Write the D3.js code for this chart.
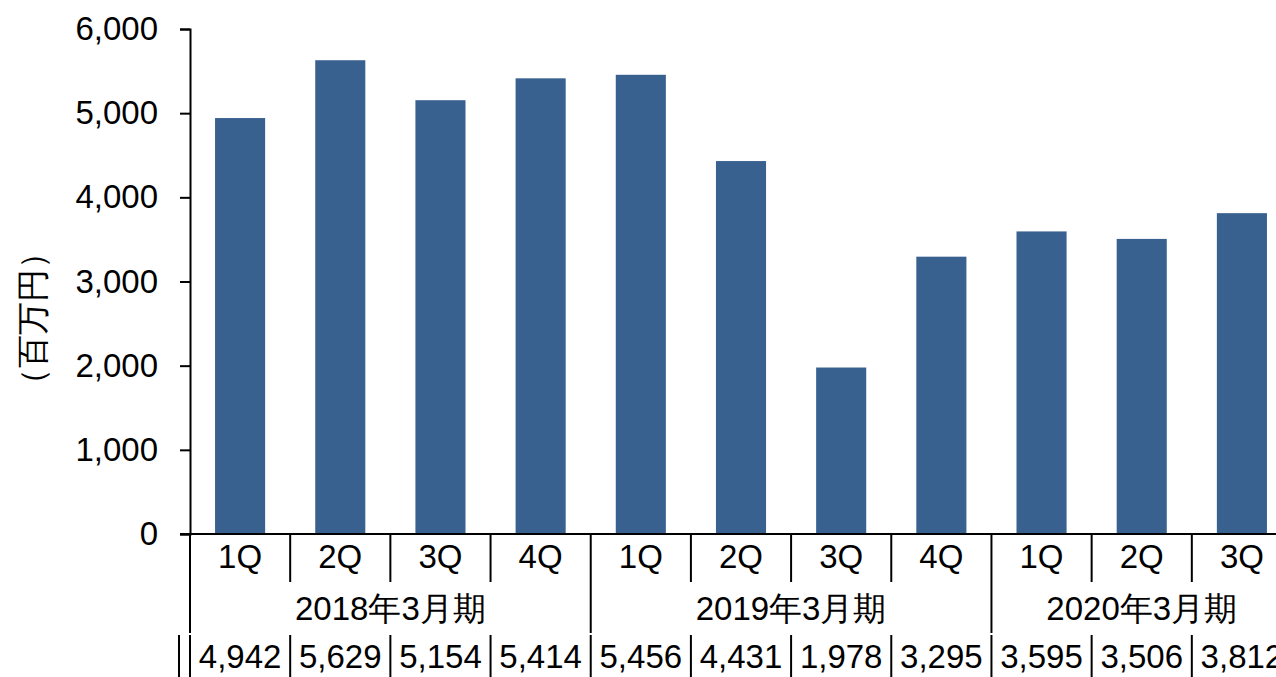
<!DOCTYPE html>
<html>
<head>
<meta charset="utf-8">
<script src="https://cdn.jsdelivr.net/npm/d3@7"></script>
<style>
body { margin: 0; background: #fff; overflow: hidden; }
text { font-family: "Liberation Sans", Arial, sans-serif; fill: #000; }
</style>
</head>
<body>
<svg id="chart" width="1276" height="677"></svg>
<script>
// quarterly values (百万円)
let quarters = ['1Q', '2Q', '3Q', '4Q', '1Q', '2Q', '3Q', '4Q', '1Q', '2Q', '3Q'];
let values = [4942, 5629, 5154, 5414, 5456, 4431, 1978, 3295, 3595, 3506, 3812];
let years = ['2018年3月期', '2019年3月期', '2020年3月期'];
let yearSpans = [4, 4, 3];
let yTicks = [0, 1000, 2000, 3000, 4000, 5000, 6000];

let svg = d3.select('#chart');
let fontSize = 33;

let x = d3.scaleBand()
    .domain(d3.range(values.length))
    .range([190, 1292])
    .paddingInner(0.5)
    .paddingOuter(0.25);
let step = x.step();

let y = d3.scaleLinear()
    .domain([0, 6000])
    .range([534, 29]);

let fmt = d3.format(',');

// bars
svg.append('g').selectAll('rect')
    .data(values)
    .enter()
    .append('rect')
    .attr('x', function(d, i){ return x(i); })
    .attr('y', function(d){ return y(d); })
    .attr('width', x.bandwidth())
    .attr('height', function(d){ return y(0) - y(d); })
    .attr('fill', '#386190');

// y axis
let yAxis = svg.append('g')
    .attr('transform', 'translate(190,0)')
    .call(d3.axisLeft(y).tickValues(yTicks).tickFormat(fmt).tickSize(10).tickPadding(22));
yAxis.selectAll('path, line').attr('stroke', '#000').attr('stroke-width', 2);
yAxis.selectAll('text')
    .style('font-size', fontSize + 'px')
    .style('font-family', '"Liberation Sans", Arial, sans-serif')
    .attr('fill', '#000');

svg.append('text')
    .attr('transform', 'translate(44,318) rotate(-90)')
    .attr('text-anchor', 'middle')
    .style('font-size', '33px')
    .text('（百万円）');

// x axis baseline
svg.append('line')
    .attr('x1', 180).attr('x2', 1292)
    .attr('y1', y(0)).attr('y2', y(0))
    .attr('stroke', '#000').attr('stroke-width', 2);

let left = x.range()[0];
let edge = function(i){ return left + i * step; };

// quarter labels and separators
svg.append('g').selectAll('text')
    .data(quarters)
    .enter()
    .append('text')
    .attr('x', function(d, i){ return edge(i) + step / 2; })
    .attr('y', 568)
    .attr('text-anchor', 'middle')
    .style('font-size', fontSize + 'px')
    .text(function(d){ return d; });

let groupStarts = [0];
yearSpans.forEach(function(s, i){ groupStarts.push(groupStarts[i] + s); });

svg.append('g').selectAll('line')
    .data(d3.range(values.length + 1))
    .enter()
    .append('line')
    .attr('x1', function(i){ return edge(i); })
    .attr('x2', function(i){ return edge(i); })
    .attr('y1', y(0))
    .attr('y2', function(i){ return groupStarts.indexOf(i) >= 0 ? 633 : 582; })
    .attr('stroke', '#000').attr('stroke-width', 2);

// year labels
svg.append('g').selectAll('text')
    .data(years)
    .enter()
    .append('text')
    .attr('x', function(d, i){ return edge(groupStarts[i]) + yearSpans[i] * step / 2; })
    .attr('y', 620)
    .attr('text-anchor', 'middle')
    .style('font-size', fontSize + 'px')
    .text(function(d){ return d; });

// data table row
svg.append('g').selectAll('line')
    .data(d3.range(values.length + 1))
    .enter()
    .append('line')
    .attr('x1', function(i){ return edge(i); })
    .attr('x2', function(i){ return edge(i); })
    .attr('y1', 635).attr('y2', 677)
    .attr('stroke', '#000').attr('stroke-width', 2);
svg.append('line')
    .attr('x1', 179).attr('x2', 179)
    .attr('y1', 635).attr('y2', 677)
    .attr('stroke', '#000').attr('stroke-width', 2);

svg.append('g').selectAll('text')
    .data(values)
    .enter()
    .append('text')
    .attr('x', function(d, i){ return edge(i) + step / 2; })
    .attr('y', 668)
    .attr('text-anchor', 'middle')
    .style('font-size', fontSize + 'px')
    .text(function(d){ return fmt(d); });
</script>
</body>
</html>
